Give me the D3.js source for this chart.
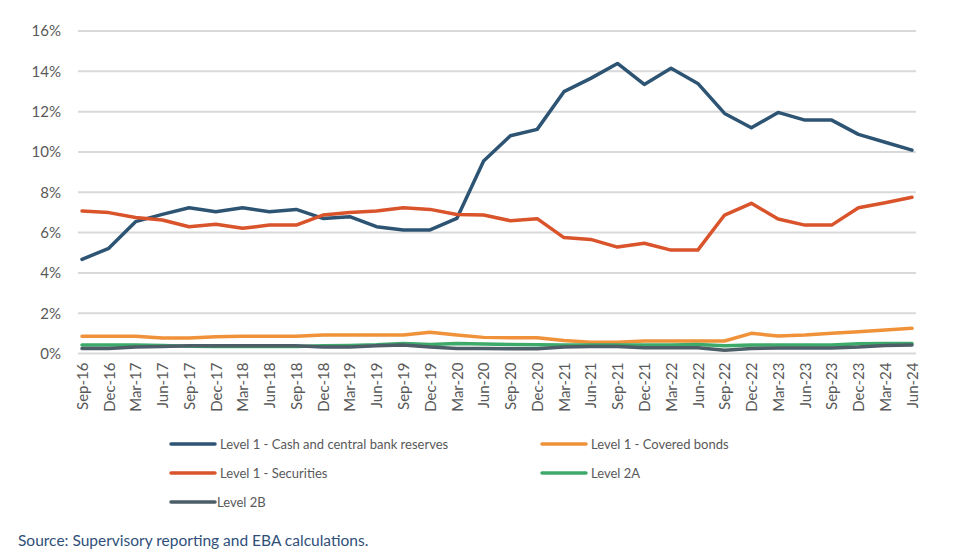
<!DOCTYPE html>
<html>
<head>
<meta charset="utf-8">
<script src="https://cdn.jsdelivr.net/npm/d3@7"></script>
<style>
  body { margin: 0; background: #fff; }
  svg text { font-family: Lato, "Open Sans", sans-serif; }
</style>
</head>
<body>
<div id="chart"></div>
<script>
// Quarterly dates
const quarters = ["Sep-16","Dec-16","Mar-17","Jun-17","Sep-17","Dec-17","Mar-18","Jun-18",
  "Sep-18","Dec-18","Mar-19","Jun-19","Sep-19","Dec-19","Mar-20","Jun-20",
  "Sep-20","Dec-20","Mar-21","Jun-21","Sep-21","Dec-21","Mar-22","Jun-22",
  "Sep-22","Dec-22","Mar-23","Jun-23","Sep-23","Dec-23","Mar-24","Jun-24"];

// Shares (%)
const cashReserves = [4.67,5.22,6.54,6.90,7.23,7.03,7.23,7.03,7.15,6.70,6.79,6.29,6.13,6.13,6.70,9.55,
  10.80,11.12,12.99,13.65,14.39,13.35,14.15,13.40,11.91,11.20,11.96,11.58,11.58,10.87,10.48,10.09];
const coveredBonds = [0.85,0.85,0.85,0.77,0.77,0.83,0.85,0.85,0.85,0.92,0.92,0.92,0.92,1.05,0.92,0.80,
  0.78,0.78,0.64,0.56,0.56,0.62,0.62,0.62,0.62,1.00,0.87,0.92,1.00,1.08,1.17,1.25];
const securities = [7.07,6.99,6.75,6.62,6.29,6.41,6.21,6.37,6.37,6.87,6.99,7.07,7.23,7.15,6.90,6.87,
  6.59,6.69,5.75,5.66,5.28,5.47,5.13,5.13,6.87,7.45,6.67,6.37,6.37,7.23,7.48,7.75];
const level2A = [0.42,0.42,0.42,0.40,0.36,0.35,0.35,0.35,0.35,0.38,0.40,0.43,0.50,0.45,0.50,0.47,
  0.45,0.43,0.42,0.42,0.42,0.42,0.42,0.45,0.38,0.42,0.42,0.42,0.42,0.48,0.50,0.50];
const level2B = [0.25,0.25,0.32,0.35,0.38,0.38,0.38,0.38,0.38,0.32,0.32,0.38,0.42,0.32,0.25,0.25,
  0.23,0.23,0.32,0.35,0.35,0.28,0.28,0.28,0.16,0.25,0.27,0.27,0.27,0.32,0.40,0.42];

const yTicks = [0, 2, 4, 6, 8, 10, 12, 14, 16];

const seriesNames = ["Level 1 - Cash and central bank reserves", "Level 1 - Covered bonds",
  "Level 1 - Securities", "Level 2A", "Level 2B"];
const seriesValues = [cashReserves, coveredBonds, securities, level2A, level2B];
const seriesColors = ["#2e5474", "#f0923a", "#d9532b", "#3daa6a", "#4e5e68"];

const width = 975;
const height = 557;
const margin = {left: 78, right: 59, top: 31, bottom: 203.5};

const svg = d3.select("#chart")
  .append("svg")
  .attr("width", width)
  .attr("height", height);

// Scales
const xScale = d3.scalePoint()
  .domain(quarters)
  .range([82, 912]);

const yScale = d3.scaleLinear()
  .domain([0, 16])
  .range([height - margin.bottom, margin.top]);

// Gridlines
svg.append("g")
  .selectAll("line")
  .data(yTicks)
  .enter()
  .append("line")
    .attr("x1", margin.left)
    .attr("x2", width - margin.right)
    .attr("y1", d => yScale(d))
    .attr("y2", d => yScale(d))
    .attr("stroke", "#d9d9d9")
    .attr("stroke-width", 2);

// Y axis
const yAxis = svg.append("g")
  .attr("transform", `translate(${margin.left - 14}, 0)`)
  .call(d3.axisLeft(yScale).tickValues(yTicks).tickSize(0).tickFormat(d => d + "%"));
yAxis.select(".domain").remove();
yAxis.selectAll("text")
  .attr("fill", "#595959")
  .attr("font-size", "15px")
  .attr("dx", 0);

// X axis
const xAxis = svg.append("g")
  .attr("transform", `translate(0, ${height - margin.bottom})`)
  .call(d3.axisBottom(xScale).tickSize(0));
xAxis.select(".domain").remove();
xAxis.selectAll("text")
  .attr("fill", "#595959")
  .attr("font-size", "15px")
  .attr("transform", "rotate(-90)")
  .attr("text-anchor", "end")
  .attr("x", -9)
  .attr("y", 0)
  .attr("dy", "0.35em");

// Lines
const line = d3.line()
  .x((d, i) => xScale(quarters[i]))
  .y(d => yScale(d));

svg.append("g")
  .selectAll("path")
  .data(seriesValues)
  .enter()
  .append("path")
    .attr("d", d => line(d))
    .attr("fill", "none")
    .attr("stroke", (d, i) => seriesColors[i])
    .attr("stroke-width", 3.5)
    .attr("stroke-linejoin", "round")
    .attr("stroke-linecap", "round");

// Legend
const legendPos = [
  {x: 171, y: 444}, {x: 542, y: 444},
  {x: 171, y: 473}, {x: 542, y: 473},
  {x: 171, y: 502}
];

const legend = svg.append("g")
  .selectAll("g")
  .data(seriesNames)
  .enter()
  .append("g")
    .attr("transform", (d, i) => `translate(${legendPos[i].x}, ${legendPos[i].y})`);

legend.append("line")
  .attr("x1", 0)
  .attr("x2", 44)
  .attr("stroke", (d, i) => seriesColors[i])
  .attr("stroke-width", 3.5)
  .attr("stroke-linecap", "round");

legend.append("text")
  .attr("x", (d, i) => i === 4 ? 46 : 49)
  .attr("dy", "0.35em")
  .attr("fill", "#595959")
  .attr("font-size", "13px")
  .text(d => d);

// Source note
svg.append("text")
  .attr("x", 18)
  .attr("y", 546)
  .attr("fill", "#2f4f7a")
  .attr("font-size", "15.5px")
  .text("Source: Supervisory reporting and EBA calculations.");
</script>
</body>
</html>
